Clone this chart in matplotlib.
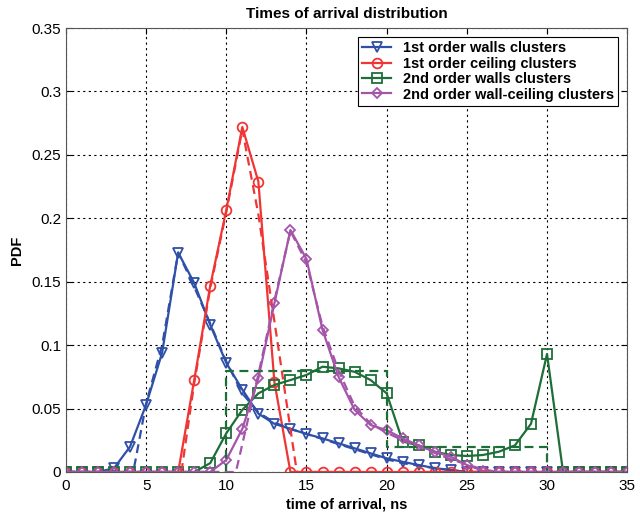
import numpy as np
import matplotlib
matplotlib.use('Agg')
import matplotlib.pyplot as plt
from matplotlib.ticker import FuncFormatter

plt.rcParams['font.family'] = ['Liberation Sans', 'DejaVu Sans']

t = np.arange(0, 36)

# measured pdfs (solid, with markers)
walls1 = [0, 0, 0, 0.003, 0.02, 0.053, 0.094, 0.173, 0.149, 0.116, 0.086, 0.065,
          0.046, 0.038, 0.034, 0.030, 0.0265, 0.0226, 0.0187, 0.0147, 0.0108, 0.008,
          0.0055, 0.003, 0.0016, 0, 0, 0, 0, 0, 0, 0, 0, 0, 0, 0]
ceil1 = [0, 0, 0, 0, 0, 0, 0, 0, 0.0725, 0.147, 0.2065, 0.272, 0.229, 0.071, 0,
         0, 0, 0, 0, 0, 0, 0, 0, 0, 0, 0, 0, 0, 0, 0, 0, 0, 0, 0, 0, 0]
walls2 = [0, 0, 0, 0, 0, 0, 0, 0, 0, 0.007, 0.0305, 0.049, 0.062, 0.0686, 0.0725,
          0.0765, 0.083, 0.0817, 0.079, 0.0725, 0.062, 0.024, 0.021, 0.016, 0.0134,
          0.0126, 0.0134, 0.016, 0.021, 0.038, 0.093, 0, 0, 0, 0, 0]
wallceil2 = [0, 0, 0, 0, 0, 0, 0, 0, 0, 0, 0.0095, 0.034, 0.0738, 0.133, 0.1908,
             0.168, 0.112, 0.075, 0.049, 0.037, 0.033, 0.0265, 0.021, 0.016, 0.012,
             0.0055, 0.001, 0, 0, 0, 0, 0, 0, 0, 0, 0]

# model pdfs (dashed)
walls1_mx = [0, 4.2, 5, 6, 7, 8, 9, 10, 11, 12, 13, 14, 15, 16, 17, 18, 19, 20, 21, 22, 23, 24, 25, 35]
walls1_my = [0, 0, 0.054, 0.1, 0.173, 0.146, 0.117, 0.087, 0.062, 0.047, 0.039, 0.034,
             0.030, 0.026, 0.022, 0.018, 0.014, 0.010, 0.007, 0.005, 0.003, 0.0015, 0, 0]
ceil1_mx = [0, 7.2, 8, 9, 10, 11, 12, 13, 14, 14.4, 35]
ceil1_my = [0, 0, 0.07, 0.145, 0.205, 0.27, 0.203, 0.119, 0.034, 0, 0]
walls2_mx = [0, 10, 10, 20, 20, 30, 30, 35]
walls2_my = [0, 0, 0.08, 0.08, 0.02, 0.02, 0, 0]
wallceil2_mx = [0, 10.6, 11, 12, 13, 14, 15, 16, 17, 18, 19, 20, 21, 22, 23, 24, 25, 26, 27, 35]
wallceil2_my = [0, 0, 0.022, 0.077, 0.135, 0.19, 0.165, 0.115, 0.08, 0.052, 0.038, 0.031,
                0.025, 0.02, 0.015, 0.01, 0.006, 0.002, 0, 0]

labels = ['1st order walls clusters', '1st order ceiling clusters',
          '2nd order walls clusters', '2nd order wall-ceiling clusters']
colors = ['#3050A8', '#F03535', '#1E6E38', '#A455AA']
markers = ['v', 'o', 's', 'D']

fig = plt.figure(figsize=(6.4, 5.15), dpi=100)
ax = fig.add_axes([0.103, 0.0835, 0.877, 0.862])

measured = [walls1, ceil1, walls2, wallceil2]
models = [(walls1_mx, walls1_my), (ceil1_mx, ceil1_my),
          (walls2_mx, walls2_my), (wallceil2_mx, wallceil2_my)]

for y, lab, c, m in zip(measured, labels, colors, markers):
    ms = 5.5 if m == 'D' else 7
    ax.plot(t, y, color=c, marker=m, ms=ms, mfc='none', mew=1.3, lw=1.6, label=lab)
for (mx, my), c in zip(models, colors):
    ax.plot(mx, my, color=c, ls=(0, (4, 2.5)), lw=1.6)

ax.set_xlim(0, 35)
ax.set_ylim(0, 0.35)
ax.set_xticks(np.arange(0, 36, 5))
ax.set_yticks(np.arange(0, 0.351, 0.05))
ax.yaxis.set_major_formatter(FuncFormatter(lambda v, p: '%g' % round(v, 2)))
ax.tick_params(direction='in', top=True, right=True, labelsize=11, length=4)
ax.tick_params(axis='x', pad=5)
ax.grid(True, color='black', ls=(0, (2, 3)), lw=0.8)
for s in ax.spines.values():
    s.set_color('#555555')

ax.set_title('Times of arrival distribution', fontsize=11, fontweight='bold', pad=7)
ax.set_xlabel('time of arrival, ns', fontsize=10.5, fontweight='bold', labelpad=3)
ax.set_ylabel('PDF', fontsize=10.5, fontweight='bold', labelpad=5)

leg = ax.legend(loc='upper right', prop={'size': 10.5, 'weight': 'bold'},
                fancybox=False, framealpha=1, edgecolor='black',
                handlelength=2.0, labelspacing=0.1, borderpad=0.3,
                borderaxespad=0.6)
leg.get_frame().set_linewidth(0.8)

fig.savefig('out.png', dpi=100)
